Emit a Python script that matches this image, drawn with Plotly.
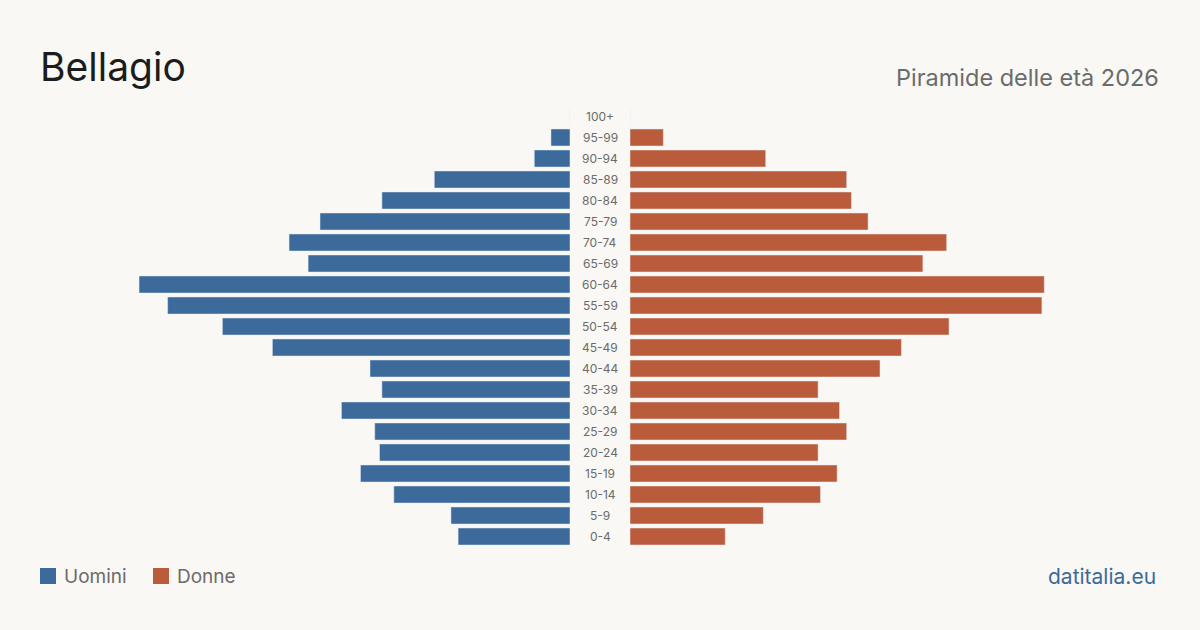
import plotly.graph_objects as go

age_groups = ["0-4", "5-9", "10-14", "15-19", "20-24", "25-29", "30-34", "35-39",
              "40-44", "45-49", "50-54", "55-59", "60-64", "65-69", "70-74", "75-79",
              "80-84", "85-89", "90-94", "95-99", "100+"]
uomini = [47, 50, 74, 88, 80, 82, 96, 79, 84, 125, 146, 169, 181, 110, 118, 105,
          79, 57, 15, 8, 0]
donne = [40, 56, 80, 87, 79, 91, 88, 79, 105, 114, 134, 173, 174, 123, 133, 100,
         93, 91, 57, 14, 0]

BLUE = "#3b6a9b"
ORANGE = "#ba5c3c"
BG = "#f9f8f4"
GRAY = "#6b6b6b"
FONT = "Inter"

s = 0.42  # value per pixel
half = 570 * s

fig = go.Figure()
fig.add_trace(go.Bar(y=age_groups, x=uomini, orientation="h", marker_color=BLUE,
                     name="Uomini", xaxis="x", yaxis="y", showlegend=False,
                     hoverinfo="x+y"))
fig.add_trace(go.Bar(y=age_groups, x=donne, orientation="h", marker_color=ORANGE,
                     name="Donne", xaxis="x2", yaxis="y", showlegend=False,
                     hoverinfo="x+y"))

ybot = (630 - 547) / 630
ytop = (630 - 106) / 630

annotations = []
for ag in age_groups:
    annotations.append(dict(x=0.5, xref="paper", y=ag, yref="y", text=ag,
                            showarrow=False, xanchor="center", yanchor="middle",
                            font=dict(family=FONT, size=12, color=GRAY)))

annotations += [
    dict(x=38 / 1200, y=1 - 67 / 630, xref="paper", yref="paper", text="Bellagio",
         showarrow=False, xanchor="left", yanchor="middle",
         font=dict(family=FONT, size=39, color="#1c1c1c")),
    dict(x=1161 / 1200, y=1 - 77 / 630, xref="paper", yref="paper",
         text="Piramide delle età 2026", showarrow=False, xanchor="right",
         yanchor="middle", font=dict(family=FONT, size=23.5, color=GRAY)),
    dict(x=62 / 1200, y=1 - 576 / 630, xref="paper", yref="paper", text="Uomini",
         showarrow=False, xanchor="left", yanchor="middle",
         font=dict(family=FONT, size=19, color=GRAY)),
    dict(x=175 / 1200, y=1 - 576 / 630, xref="paper", yref="paper", text="Donne",
         showarrow=False, xanchor="left", yanchor="middle",
         font=dict(family=FONT, size=19, color=GRAY)),
    dict(x=1158 / 1200, y=1 - 576 / 630, xref="paper", yref="paper",
         text="datitalia.eu", showarrow=False, xanchor="right", yanchor="middle",
         font=dict(family=FONT, size=21, color=BLUE)),
]

shapes = [
    dict(type="rect", xref="paper", yref="paper", x0=40 / 1200, x1=56 / 1200,
         y0=1 - 584 / 630, y1=1 - 568 / 630, fillcolor=BLUE, line_width=0),
    dict(type="rect", xref="paper", yref="paper", x0=153 / 1200, x1=169 / 1200,
         y0=1 - 584 / 630, y1=1 - 568 / 630, fillcolor=ORANGE, line_width=0),
]

fig.update_layout(
    width=1200, height=630,
    margin=dict(l=0, r=0, t=0, b=0),
    paper_bgcolor=BG, plot_bgcolor=BG,
    bargap=0.19,
    xaxis=dict(domain=[0, 570 / 1200], range=[half, 0], visible=False, fixedrange=True),
    xaxis2=dict(domain=[630 / 1200, 1], range=[0, half], visible=False, fixedrange=True),
    yaxis=dict(domain=[ybot, ytop], range=[-0.5, 20.5], visible=False,
               categoryorder="array", categoryarray=age_groups, fixedrange=True),
    annotations=annotations,
    shapes=shapes,
    showlegend=False,
)

fig.write_html("out.html")
